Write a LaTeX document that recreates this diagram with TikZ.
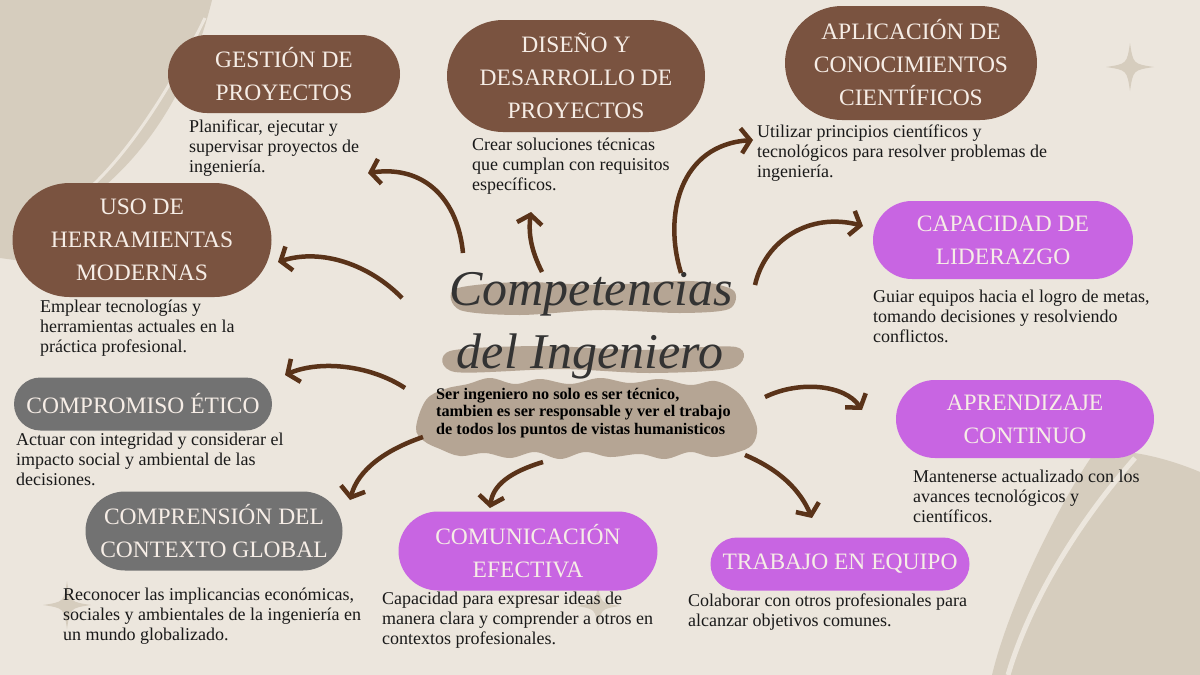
\documentclass[tikz,border=0pt]{standalone}
\usepackage{fontspec}
\setmainfont{Liberation Serif}
\usetikzlibrary{shapes.misc,arrows.meta}
\definecolor{paper}{HTML}{ECE6DD}
\definecolor{blob}{HTML}{D6CDBE}
\definecolor{smudge}{HTML}{B5A594}
\definecolor{cocoa}{HTML}{7A5340}
\definecolor{lilac}{HTML}{C865E2}
\definecolor{slate}{HTML}{727272}
\definecolor{ink}{HTML}{5A3319}
\definecolor{cream}{HTML}{F6EDE6}
\newcommand{\twinkle}[3]{\fill[blob] (#1,#2-#3) .. controls (#1+0.13*#3,#2-0.13*#3) .. (#1+#3,#2)
  .. controls (#1+0.13*#3,#2+0.13*#3) .. (#1,#2+#3) .. controls (#1-0.13*#3,#2+0.13*#3) .. (#1-#3,#2)
  .. controls (#1-0.13*#3,#2-0.13*#3) .. cycle;}
\begin{document}
\begin{tikzpicture}[x=1pt,y=-1pt,
  pill/.style={rounded rectangle, fill=#1, text=cream, align=center, inner sep=0pt,
    font=\fontsize{23.5}{33}\selectfont},
  note/.style={anchor=north west, align=left, inner sep=0pt, text=black!90,
    font=\fontsize{18}{20}\selectfont},
  flow/.style={draw=ink, line width=4.5pt, -{Straight Barb[length=9pt,width=25pt]}},
  script/.style={anchor=base, inner sep=0pt, text=black!80, font=\fontsize{50}{50}\selectfont\itshape}]
\useasboundingbox (0,0) rectangle (1200,675);
\fill[paper] (0,0) rectangle (1200,675);
% background shapes
\fill[blob] (0,0) -- (212,0) .. controls (195,70) and (160,140) .. (100,190) -- (30,262) -- (0,258) -- cycle;
\draw[paper, line width=3pt] (205,18) .. controls (170,90) and (130,150) .. (92,186);
\fill[blob] (1200,472) .. controls (1160,455) and (1110,445) .. (1092,456)
  .. controls (1062,500) and (1010,600) .. (992,675) -- (1200,675) -- cycle;
\draw[paper, line width=5pt] (1135,458) .. controls (1080,520) and (1030,600) .. (1008,675);
\twinkle{1130}{67}{24}
\twinkle{67}{605}{24}
\twinkle{598}{606}{22}

% topic boxes
\node[pill=cocoa, minimum width=232, minimum height=78] (gestion) at (284,74) {GESTIÓN DE\\PROYECTOS};
\node[pill=cocoa, minimum width=258, minimum height=112] (diseno) at (576,76) {DISEÑO Y\\DESARROLLO DE\\PROYECTOS};
\node[pill=cocoa, minimum width=252, minimum height=114] (aplicacion) at (911,63) {APLICACIÓN DE\\CONOCIMIENTOS\\CIENTÍFICOS};
\node[pill=cocoa, minimum width=259, minimum height=114] (uso) at (142,240) {USO DE\\HERRAMIENTAS\\MODERNAS};
\node[pill=lilac, minimum width=260, minimum height=78] (liderazgo) at (1003,240) {CAPACIDAD DE\\LIDERAZGO};
\node[pill=slate, minimum width=258, minimum height=53] (etico) at (143,404) {COMPROMISO ÉTICO};
\node[pill=lilac, minimum width=258, minimum height=78] (aprendizaje) at (1025,419) {APRENDIZAJE\\CONTINUO};
\node[pill=slate, minimum width=257, minimum height=79] (global) at (214,531) {COMPRENSIÓN DEL\\CONTEXTO GLOBAL};
\node[pill=lilac, minimum width=259, minimum height=79] (comunicacion) at (528,551) {COMUNICACIÓN\\EFECTIVA};
\node[pill=lilac, minimum width=259, minimum height=53] (equipo) at (840,564) {TRABAJO EN EQUIPO};

% descriptions
\node[note] (dgestion) at (189,120) {Planificar, ejecutar y\\supervisar proyectos de\\ingeniería.};
\node[note] (ddiseno) at (472,138) {Crear soluciones técnicas\\que cumplan con requisitos\\específicos.};
\node[note] (daplicacion) at (757,125) {Utilizar principios científicos y\\tecnológicos para resolver problemas de\\ingeniería.};
\node[note] (duso) at (40,300) {Emplear tecnologías y\\herramientas actuales en la\\práctica profesional.};
\node[note] (dliderazgo) at (873,290) {Guiar equipos hacia el logro de metas,\\tomando decisiones y resolviendo\\conflictos.};
\node[note] (detico) at (16,433) {Actuar con integridad y considerar el\\impacto social y ambiental de las\\decisiones.};
\node[note] (daprendizaje) at (913,470) {Mantenerse actualizado con los\\avances tecnológicos y\\científicos.};
\node[note] (dglobal) at (63,588) {Reconocer las implicancias económicas,\\sociales y ambientales de la ingeniería en\\un mundo globalizado.};
\node[note] (dcomunicacion) at (382,592) {Capacidad para expresar ideas de\\manera clara y comprender a otros en\\contextos profesionales.};
\node[note] (dequipo) at (688,594) {Colaborar con otros profesionales para\\alcanzar objetivos comunes.};

% centre
\fill[smudge] plot[smooth cycle] coordinates {(455,289) (520,282) (600,285) (690,281) (733,290)
  (729,309) (680,313) (600,310) (520,315) (460,310)};
\fill[smudge] plot[smooth cycle] coordinates {(450,351) (540,346) (640,350) (736,347)
  (733,368) (650,373) (560,369) (455,372)};
\fill[smudge] plot[smooth cycle, tension=0.6] coordinates {(416,428) (426,400) (445,389) (468,384)
  (490,378) (515,384) (540,379) (570,384) (600,378) (630,383) (660,379) (690,385) (715,381)
  (736,391) (748,406) (757,428) (752,445) (735,453) (712,457) (690,452) (665,459) (640,454)
  (610,457) (585,452) (560,459) (535,452) (510,458) (485,453) (460,456) (440,449) (424,441)};
\node[script] (titulo) at (591,305) {Competencias};
\node[script] (titulo2) at (590,368) {del Ingeniero};
\node[anchor=west, align=left, inner sep=0pt, font=\fontsize{16.2}{17.5}\selectfont\bfseries] (lema) at (436,413)
  {Ser ingeniero no solo es ser técnico,\\tambien es ser responsable y ver el trabajo\\de todos los puntos de vistas humanisticos};

% arrows
\coordinate (a1) at (463,253); \coordinate (b1) at (368,173);
\coordinate (a2) at (542,272); \coordinate (b2) at (531,212);
\coordinate (a3) at (681,273); \coordinate (b3) at (753,140);
\coordinate (a4) at (755,285); \coordinate (b4) at (863,226);
\coordinate (a5) at (402,298); \coordinate (b5) at (278,262);
\coordinate (a6) at (405,388); \coordinate (b6) at (285,375);
\coordinate (a7) at (765,397); \coordinate (b7) at (862,410);
\coordinate (a8) at (423,437); \coordinate (b8) at (350,500);
\coordinate (a9) at (543,462); \coordinate (b9) at (490,508);
\coordinate (a10) at (745,455); \coordinate (b10) at (812,518);
\draw[flow] (a1) .. controls (458,200) and (425,165) .. (b1);
\draw[flow] (a2) .. controls (532,252) and (528,235) .. (b2);
\draw[flow] (a3) .. controls (663,215) and (680,145) .. (b3);
\draw[flow] (a4) .. controls (765,240) and (810,212) .. (b4);
\draw[flow] (a5) .. controls (370,265) and (322,248) .. (b5);
\draw[flow] (a6) .. controls (370,365) and (320,360) .. (b6);
\draw[flow] (a7) .. controls (800,380) and (845,385) .. (b7);
\draw[flow] (a8) .. controls (385,450) and (358,470) .. (b8);
\draw[flow] (a9) .. controls (510,472) and (493,485) .. (b9);
\draw[flow] (a10) .. controls (780,470) and (800,490) .. (b10);
\end{tikzpicture}
\end{document}
